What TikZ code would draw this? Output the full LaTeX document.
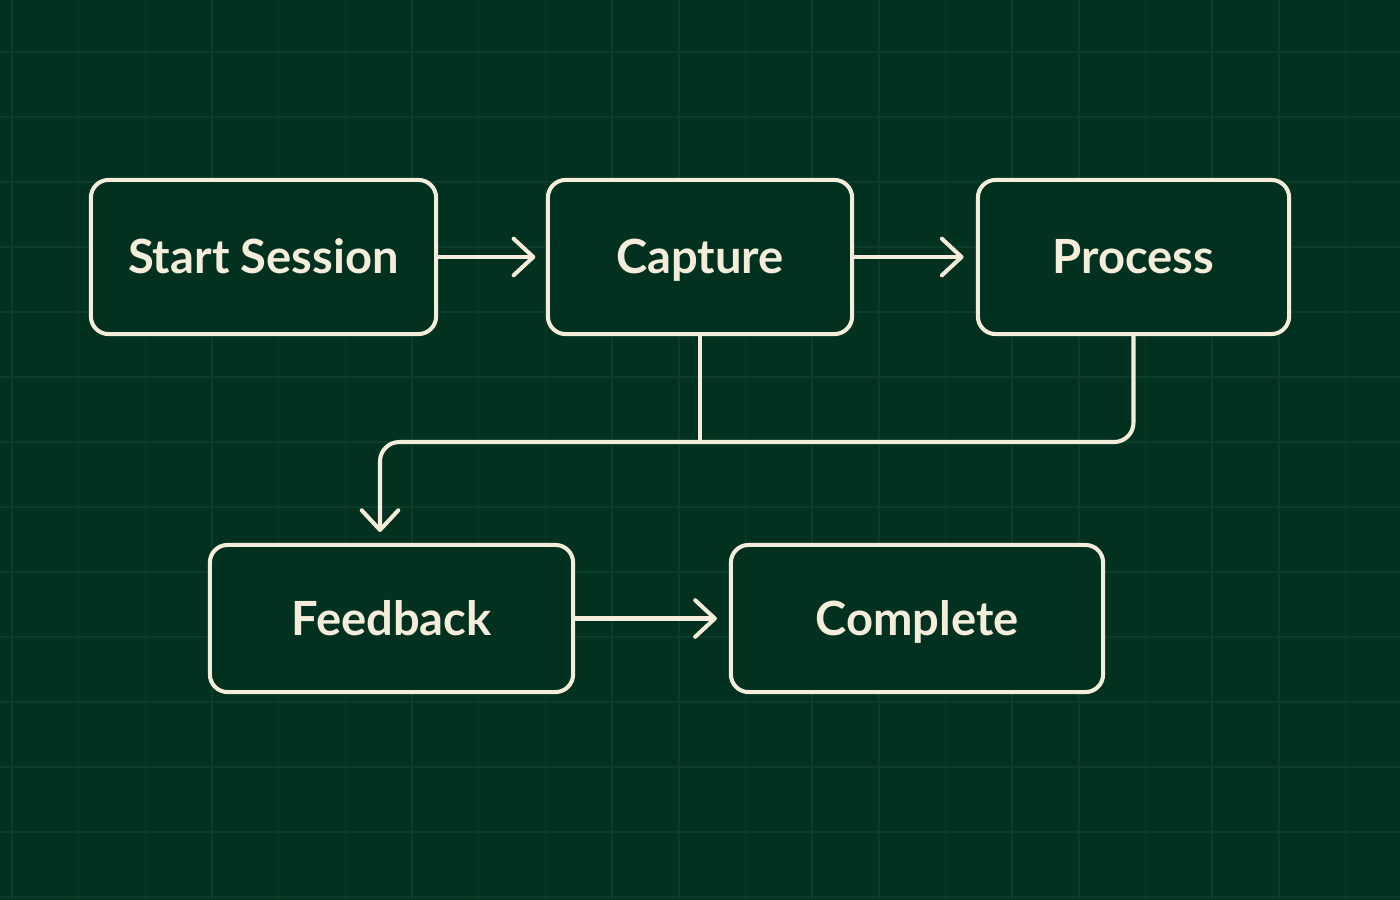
\documentclass[tikz,border=0pt]{standalone}
\usepackage{fontspec}
\setmainfont{Lato}
\usetikzlibrary{arrows.meta}
\definecolor{bgreen}{HTML}{03311F}
\definecolor{gridgreen}{HTML}{0A3C2A}
\definecolor{cream}{HTML}{F4EDDB}
\tikzset{
    stepbox/.style={draw=cream,fill=bgreen,line width=1.15pt,rounded corners=5pt,
        text=cream,font=\fontsize{13.4}{16}\selectfont\bfseries,inner sep=0pt,
        text height=9.6pt,text depth=0pt},
    link/.style={draw=cream,line width=1.15pt,line cap=round},
}
\begin{document}
\begin{tikzpicture}[x=0.01cm,y=-0.01cm,>={Straight Barb[length=5.6pt,width=10.4pt,line cap=round,line join=round]}]
    \useasboundingbox (0,0) rectangle (1400,900);
    \fill[bgreen] (0,0) rectangle (1400,900);
    % grid
    \foreach \i in {0,...,20} \draw[gridgreen,line width=0.45pt] ({12+66.67*\i},0)--({12+66.67*\i},900);
    \foreach \j in {0,...,13} \draw[gridgreen,line width=0.45pt] (0,{52+65*\j})--(1400,{52+65*\j});
    % boxes
    \node[stepbox,minimum width=3.45cm,minimum height=1.54cm] (start) at (263.5,257) {Start Session};
    \node[stepbox,minimum width=3.04cm,minimum height=1.54cm] (capture) at (700,257) {Capture};
    \node[stepbox,minimum width=3.11cm,minimum height=1.54cm] (process) at (1133.5,257) {Process};
    \node[stepbox,minimum width=3.63cm,minimum height=1.47cm] (feedback) at (391.5,618.5) {Feedback};
    \node[stepbox,minimum width=3.72cm,minimum height=1.47cm] (complete) at (917,618.5) {Complete};
    \coordinate (bus) at (0,442);
    \coordinate (fbin) at (380,532);
    % connectors
    \draw[link,->] (start.east)--([xshift=-3pt]capture.west);
    \draw[link,->] (capture.east)--([xshift=-3.5pt]process.west);
    \draw[link] (capture.south)--(capture.south|-bus);
    \draw[link,->,rounded corners=5.5pt] (process.south)--(process.south|-bus)-|(fbin);
    \draw[link,->] (feedback.east)--([xshift=-3.4pt]complete.west);
\end{tikzpicture}
\end{document}
